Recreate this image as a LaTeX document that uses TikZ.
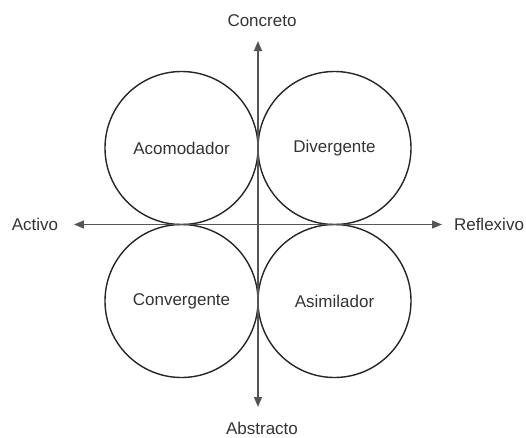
\documentclass[tikz,border=0pt]{standalone}
\usepackage{fontspec}
\setmainfont{Liberation Sans}
\usetikzlibrary{arrows.meta}
\definecolor{inkgray}{HTML}{333333}
\definecolor{axisgray}{HTML}{555555}

\tikzset{
    learnstyle/.style={circle, draw=black!85, line width=1.4pt, minimum size=153pt, inner sep=0pt, text=inkgray},
    axislabel/.style={text=inkgray},
    axisline/.style={axisgray, line width=1.4pt, {Triangle[length=10pt,width=8pt]}-{Triangle[length=10pt,width=8pt]}},
}

\begin{document}
\begin{tikzpicture}[x=1pt, y=1pt, font=\fontsize{17}{20}\selectfont]
    \useasboundingbox (-258,-212.5) rectangle (268,224.5);

    % the four learning styles
    \node[learnstyle] (acomodador) at (-76.5, 76.5) {Acomodador};
    \node[learnstyle] (divergente) at (76.5, 76.5) {Divergente};
    \node[learnstyle] (convergente) at (-76.5, -76.5) {Convergente};
    \node[learnstyle] (asimilador) at (76.5, -76.5) {Asimilador};

    % axis ends
    \coordinate (top) at (0, 183.5);
    \coordinate (bottom) at (0, -182.5);
    \coordinate (left) at (-184, 0);
    \coordinate (right) at (184, 0);

    \draw[axisline] (bottom) -- (top);
    \draw[axisline] (left) -- (right);

    \node[axislabel] (concreto) at (4, 203.5) {Concreto};
    \node[axislabel] (abstracto) at (4, -203.5) {Abstracto};
    \node[axislabel] (activo) at (-223, 0) {Activo};
    \node[axislabel] (reflexivo) at (231, 0) {Reflexivo};
\end{tikzpicture}
\end{document}
